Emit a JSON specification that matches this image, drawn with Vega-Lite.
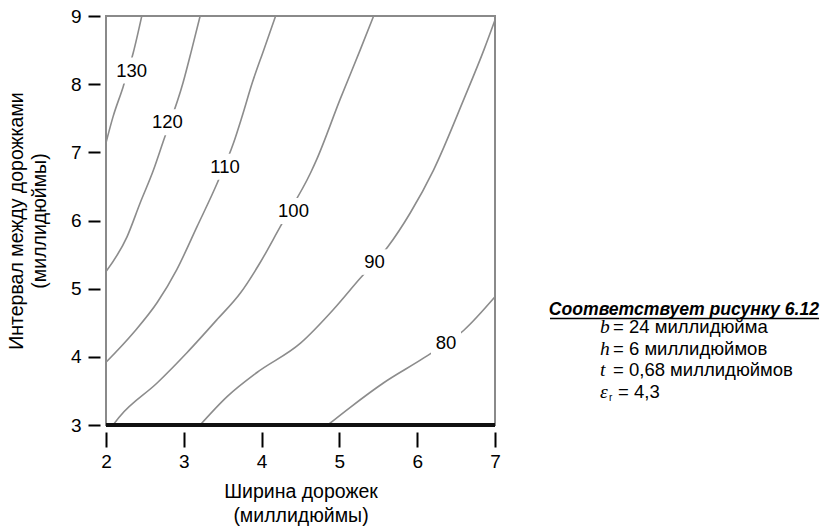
{
  "$schema": "https://vega.github.io/schema/vega-lite/v6.json",
  "width": 389,
  "height": 409,
  "autosize": "none",
  "padding": {"left": 106, "top": 16, "right": 327, "bottom": 104},
  "background": "white",
  "config": {
    "view": {"stroke": "#8a8a8a", "strokeWidth": 2},
    "font": "Liberation Sans"
  },
  "datasets": {
    "curves": [
      {"v": 130, "x": 2.0, "y": 7.14}, {"v": 130, "x": 2.09, "y": 7.52}, {"v": 130, "x": 2.22, "y": 7.96}, {"v": 130, "x": 2.35, "y": 8.46}, {"v": 130, "x": 2.46, "y": 9.0},
      {"v": 120, "x": 2.0, "y": 5.25}, {"v": 120, "x": 2.27, "y": 5.76}, {"v": 120, "x": 2.44, "y": 6.26}, {"v": 120, "x": 2.61, "y": 6.74}, {"v": 120, "x": 2.73, "y": 7.14}, {"v": 120, "x": 2.99, "y": 8.02}, {"v": 120, "x": 3.10, "y": 8.50}, {"v": 120, "x": 3.21, "y": 9.0},
      {"v": 110, "x": 2.0, "y": 3.92}, {"v": 110, "x": 2.35, "y": 4.35}, {"v": 110, "x": 2.66, "y": 4.80}, {"v": 110, "x": 2.91, "y": 5.28}, {"v": 110, "x": 3.17, "y": 5.91}, {"v": 110, "x": 3.43, "y": 6.55}, {"v": 110, "x": 3.64, "y": 7.14}, {"v": 110, "x": 3.75, "y": 7.53}, {"v": 110, "x": 3.88, "y": 8.02}, {"v": 110, "x": 4.03, "y": 8.51}, {"v": 110, "x": 4.18, "y": 9.0},
      {"v": 100, "x": 2.09, "y": 3.0}, {"v": 100, "x": 2.18, "y": 3.13}, {"v": 100, "x": 2.66, "y": 3.62}, {"v": 100, "x": 3.04, "y": 4.06}, {"v": 100, "x": 3.43, "y": 4.55}, {"v": 100, "x": 3.73, "y": 4.94}, {"v": 100, "x": 3.98, "y": 5.38}, {"v": 100, "x": 4.24, "y": 5.91}, {"v": 100, "x": 4.63, "y": 6.70}, {"v": 100, "x": 4.71, "y": 6.90}, {"v": 100, "x": 5.01, "y": 7.78}, {"v": 100, "x": 5.27, "y": 8.51}, {"v": 100, "x": 5.44, "y": 9.0},
      {"v": 90, "x": 3.21, "y": 3.0}, {"v": 90, "x": 3.56, "y": 3.42}, {"v": 90, "x": 3.94, "y": 3.77}, {"v": 90, "x": 4.50, "y": 4.20}, {"v": 90, "x": 4.92, "y": 4.69}, {"v": 90, "x": 5.25, "y": 5.13}, {"v": 90, "x": 5.62, "y": 5.61}, {"v": 90, "x": 5.91, "y": 6.11}, {"v": 90, "x": 6.21, "y": 6.74}, {"v": 90, "x": 6.60, "y": 7.78}, {"v": 90, "x": 6.86, "y": 8.51}, {"v": 90, "x": 7.0, "y": 8.94},
      {"v": 80, "x": 4.85, "y": 3.0}, {"v": 80, "x": 5.14, "y": 3.26}, {"v": 80, "x": 5.57, "y": 3.62}, {"v": 80, "x": 6.08, "y": 3.98}, {"v": 80, "x": 6.60, "y": 4.39}, {"v": 80, "x": 7.0, "y": 4.88}
    ],
    "labels": [
      {"v": 130, "x": 2.33, "y": 8.20},
      {"v": 120, "x": 2.79, "y": 7.44},
      {"v": 110, "x": 3.53, "y": 6.79},
      {"v": 100, "x": 4.41, "y": 6.14},
      {"v": 90, "x": 5.45, "y": 5.39},
      {"v": 80, "x": 6.37, "y": 4.20}
    ]
  },
  "layer": [
    {
      "data": {"name": "curves"},
      "mark": {"type": "line", "color": "#8c8c8c", "strokeWidth": 1.6, "interpolate": "monotone"},
      "encoding": {
        "x": {
          "field": "x", "type": "quantitative",
          "scale": {"domain": [2, 7], "nice": false, "zero": false},
          "axis": {
            "values": [2, 3, 4, 5, 6, 7], "format": "d", "offset": 7, "domain": false, "grid": false,
            "tickSize": 15, "tickWidth": 2, "tickColor": "#000", "labelFlush": false,
            "labelFontSize": 19, "labelPadding": 5, "labelColor": "#000", "labelFont": "Liberation Sans",
            "title": ["Ширина дорожек", "(миллидюймы)"],
            "titleFontSize": 19.5, "titleFont": "Liberation Sans", "titleFontWeight": "normal", "titleColor": "#000",
            "titlePadding": 11, "titleLineHeight": 24
          }
        },
        "y": {
          "field": "y", "type": "quantitative",
          "scale": {"domain": [3, 9], "nice": false, "zero": false},
          "axis": {
            "values": [3, 4, 5, 6, 7, 8, 9], "format": "d", "offset": 6, "domain": false, "grid": false,
            "tickSize": 12, "tickWidth": 2, "tickColor": "#000", "labelFlush": false,
            "labelFontSize": 19, "labelPadding": 7, "labelColor": "#000", "labelFont": "Liberation Sans",
            "title": ["Интервал между дорожками", "(миллидюймы)"],
            "titleFontSize": 19.5, "titleFont": "Liberation Sans", "titleFontWeight": "normal", "titleColor": "#000",
            "titlePadding": 21, "titleLineHeight": 23
          }
        },
        "detail": {"field": "v", "type": "nominal"}
      }
    },
    {
      "data": {"values": [{}]},
      "mark": {"type": "rule", "color": "#111", "strokeWidth": 4},
      "encoding": {
        "y": {"datum": 3, "type": "quantitative", "scale": {"domain": [3, 9]}}
      }
    },
    {
      "data": {"name": "labels"},
      "mark": {"type": "point", "filled": true, "color": "white", "opacity": 1, "strokeWidth": 0},
      "encoding": {
        "x": {"field": "x", "type": "quantitative", "scale": {"domain": [2, 7]}},
        "y": {"field": "y", "type": "quantitative", "scale": {"domain": [3, 9]}},
        "shape": {"condition": {"test": "datum.v >= 100", "value": "M-1,-0.65H1V0.65H-1Z"}, "value": "M-1,-0.85H1V0.85H-1Z"},
        "size": {"condition": {"test": "datum.v >= 100", "value": 1600}, "value": 900}
      }
    },
    {
      "data": {"name": "labels"},
      "mark": {"type": "text", "fontSize": 18.5, "font": "Liberation Sans", "color": "#000", "align": "center", "baseline": "middle"},
      "encoding": {
        "x": {"field": "x", "type": "quantitative", "scale": {"domain": [2, 7]}},
        "y": {"field": "y", "type": "quantitative", "scale": {"domain": [3, 9]}},
        "text": {"field": "v", "type": "quantitative"}
      }
    },
    {
      "data": {"values": [{}]},
      "mark": {"type": "text", "fontSize": 17.6, "font": "Liberation Sans", "fontWeight": "bold", "fontStyle": "italic", "color": "#000", "align": "right", "baseline": "alphabetic"},
      "encoding": {
        "x": {"datum": 11.165, "type": "quantitative", "scale": {"domain": [2, 7]}},
        "y": {"datum": 4.621, "type": "quantitative", "scale": {"domain": [3, 9]}},
        "text": {"value": "Соответствует рисунку 6.12"}
      }
    },
    {
      "data": {"values": [{}]},
      "mark": {"type": "rule", "color": "#000", "strokeWidth": 1.5},
      "encoding": {
        "x": {"datum": 7.707, "type": "quantitative", "scale": {"domain": [2, 7]}},
        "x2": {"datum": 11.165},
        "y": {"datum": 4.562, "type": "quantitative", "scale": {"domain": [3, 9]}}
      }
    },
    {
      "data": {"values": [{}]},
      "mark": {"type": "text", "fontSize": 19.5, "font": "Liberation Serif", "fontStyle": "italic", "color": "#000", "align": "left", "baseline": "alphabetic", "lineHeight": 21.5},
      "encoding": {
        "x": {"datum": 8.35, "type": "quantitative", "scale": {"domain": [2, 7]}},
        "y": {"datum": 4.343, "type": "quantitative", "scale": {"domain": [3, 9]}},
        "text": {"value": ["b", "h", "t", "ε"]}
      }
    },
    {
      "data": {"values": [{}]},
      "mark": {"type": "text", "fontSize": 18.5, "font": "Liberation Sans", "color": "#000", "align": "left", "baseline": "alphabetic", "lineHeight": 21.5, "dx": 13},
      "encoding": {
        "x": {"datum": 8.35, "type": "quantitative", "scale": {"domain": [2, 7]}},
        "y": {"datum": 4.343, "type": "quantitative", "scale": {"domain": [3, 9]}},
        "text": {"value": ["= 24 миллидюйма", "= 6 миллидюймов", "= 0,68 миллидюймов"]}
      }
    },
    {
      "data": {"values": [{}]},
      "mark": {"type": "text", "fontSize": 10, "font": "Liberation Sans", "color": "#000", "align": "left", "baseline": "alphabetic", "dx": 9, "dy": 3},
      "encoding": {
        "x": {"datum": 8.35, "type": "quantitative", "scale": {"domain": [2, 7]}},
        "y": {"datum": 3.397, "type": "quantitative", "scale": {"domain": [3, 9]}},
        "text": {"value": "r"}
      }
    },
    {
      "data": {"values": [{}]},
      "mark": {"type": "text", "fontSize": 18.5, "font": "Liberation Sans", "color": "#000", "align": "left", "baseline": "alphabetic", "dx": 18},
      "encoding": {
        "x": {"datum": 8.35, "type": "quantitative", "scale": {"domain": [2, 7]}},
        "y": {"datum": 3.397, "type": "quantitative", "scale": {"domain": [3, 9]}},
        "text": {"value": "= 4,3"}
      }
    }
  ]
}
